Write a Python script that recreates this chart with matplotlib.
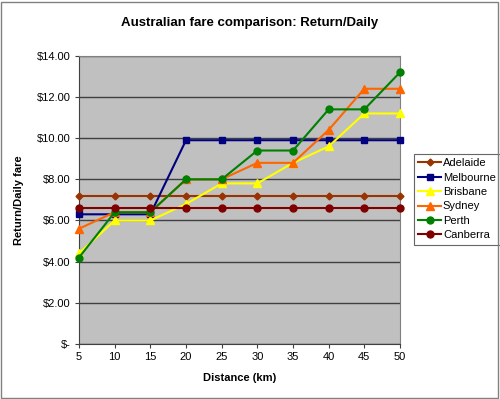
import matplotlib
matplotlib.use("Agg")
import matplotlib.pyplot as plt
from matplotlib.patches import Rectangle
from matplotlib.ticker import FuncFormatter

plt.rcParams['font.family'] = ['Liberation Sans', 'DejaVu Sans']

# distance in km
distance = [5, 10, 15, 20, 25, 30, 35, 40, 45, 50]

adelaide = [7.20, 7.20, 7.20, 7.20, 7.20, 7.20, 7.20, 7.20, 7.20, 7.20]
melbourne = [6.30, 6.30, 6.30, 9.90, 9.90, 9.90, 9.90, 9.90, 9.90, 9.90]
brisbane = [4.40, 6.00, 6.00, 6.80, 7.80, 7.80, 8.80, 9.60, 11.20, 11.20]
sydney = [5.60, 6.40, 6.40, 8.00, 8.00, 8.80, 8.80, 10.40, 12.40, 12.40]
perth = [4.20, 6.40, 6.40, 8.00, 8.00, 9.40, 9.40, 11.40, 11.40, 13.20]
canberra = [6.60, 6.60, 6.60, 6.60, 6.60, 6.60, 6.60, 6.60, 6.60, 6.60]

series = [
    ('Adelaide', adelaide, '#993300', 'D', 3.5),
    ('Melbourne', melbourne, '#000080', 's', 5),
    ('Brisbane', brisbane, '#FFFF00', '^', 6),
    ('Sydney', sydney, '#FF6600', '^', 6),
    ('Perth', perth, '#008000', 'o', 5),
    ('Canberra', canberra, '#800000', 'o', 5),
]

fig = plt.figure(figsize=(5, 3.99), dpi=100)
ax = fig.add_axes([0.158, 0.138, 0.642, 0.722])
ax.set_facecolor('#C0C0C0')

for name, vals, col, mk, ms in series:
    ax.plot(distance, vals, color=col, marker=mk, markersize=ms, linewidth=1.5,
            markeredgecolor=col, label=name, clip_on=False, zorder=3)

ax.set_xlim(5, 50)
ax.set_ylim(0, 14)
ax.set_xticks(distance)
ax.set_yticks(range(0, 15, 2))
ax.yaxis.set_major_formatter(FuncFormatter(lambda v, p: '$-' if v == 0 else '${:.2f}'.format(v)))
ax.grid(axis='y', color='#404040', linewidth=1, zorder=1)
ax.set_axisbelow(True)
ax.tick_params(labelsize=8, length=3, color='#404040', pad=3)

for s in ['top', 'right']:
    ax.spines[s].set_color('#808080')
for s in ['left', 'bottom']:
    ax.spines[s].set_color('#404040')

ax.set_xlabel('Distance (km)', fontsize=8, fontweight='bold', labelpad=8)
ax.set_ylabel('Return/Daily fare', fontsize=8, fontweight='bold', labelpad=9)
fig.text(0.5, 0.942, 'Australian fare comparison: Return/Daily', ha='center', va='center',
         fontsize=9.5, fontweight='bold')

leg = ax.legend(loc='upper left', bbox_to_anchor=(0.828, 0.615), bbox_transform=fig.transFigure,
                fontsize=8, frameon=True, fancybox=False, edgecolor='#404040',
                handlelength=2.0, handletextpad=0.2, borderpad=0.4, labelspacing=0.4,
                borderaxespad=0)
leg.get_frame().set_linewidth(0.8)

fig.patches.append(Rectangle((0.002, 0.003), 0.994, 0.993, transform=fig.transFigure,
                             fill=False, edgecolor='#808080', linewidth=1))

fig.savefig('out.png', dpi=100)
